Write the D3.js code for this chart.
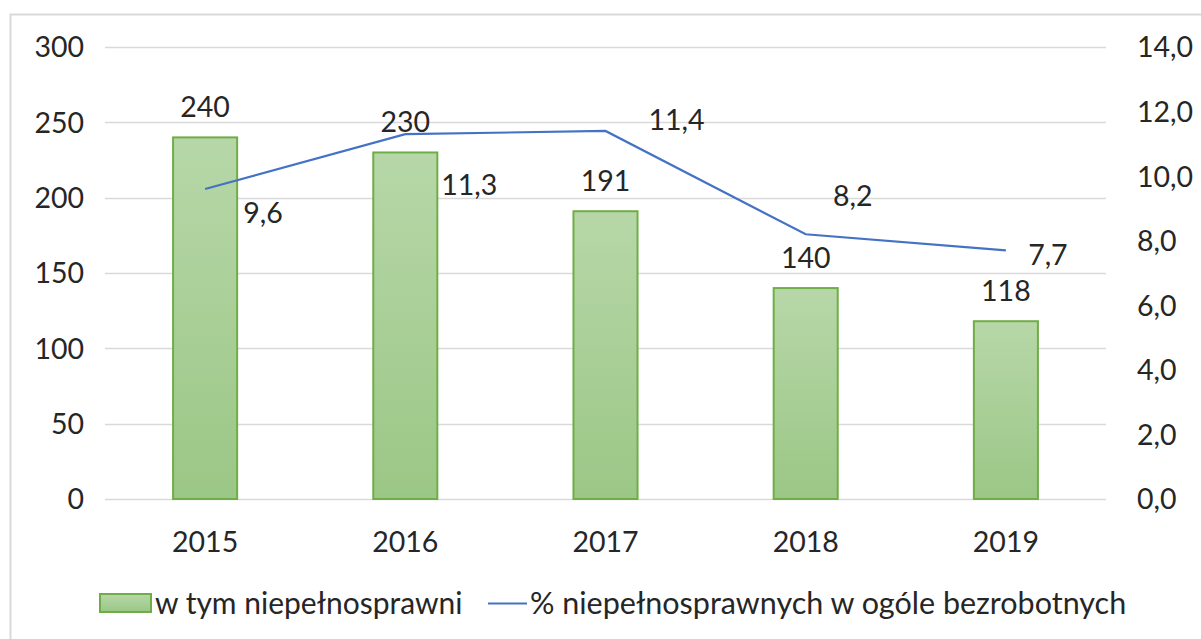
<!DOCTYPE html>
<html><head><meta charset="utf-8">
<script src="https://cdn.jsdelivr.net/npm/d3@7"></script>
<style>body{margin:0;background:#fff}svg{display:block}text{font-family:Lato,"Open Sans",sans-serif;fill:#262626}</style>
</head><body>
<svg id="c" width="1201" height="639"></svg>
<script>
const years = ["2015","2016","2017","2018","2019"];
const counts = [240,230,191,140,118];
const percents = [9.6,11.3,11.4,8.2,7.7];
const leftTicks = [0,50,100,150,200,250,300];
const rightTicks = [0,2,4,6,8,10,12,14];
const barName = "w tym niepełnosprawni";
const lineName = "% niepełnosprawnych w ogóle bezrobotnych";
// label offsets (dx, dy) for line value labels, relative to the point
const lineLabelOffsets = [[58,24],[64,51],[71,-11],[47,-38],[42,5]];

const svg = d3.select("#c");
const m = {l:105, r:1106, t:47, b:499};
const fs = 28.5;
const lfs = 30;

svg.append("rect").attr("x",10.5).attr("y",14.5).attr("width",1200).attr("height",640)
  .attr("fill","#fff").attr("stroke","#d9d9d9").attr("stroke-width",2);

const x = d3.scaleBand().domain(years).range([m.l,m.r]).paddingInner(0.68).paddingOuter(0.34);
const yL = d3.scaleLinear().domain([0,300]).range([m.b,m.t]);
const yR = d3.scaleLinear().domain([0,14]).range([m.b,m.t]);

const defs = svg.append("defs");
const g = defs.append("linearGradient").attr("id","bg").attr("x1",0).attr("y1",0).attr("x2",0).attr("y2",1);
g.append("stop").attr("offset","0%").attr("stop-color","#b7d7a8");
g.append("stop").attr("offset","100%").attr("stop-color","#9bc786");

// grid
svg.append("g").selectAll("line").data(leftTicks).join("line")
  .attr("x1",m.l).attr("x2",m.r).attr("y1",d=>Math.round(yL(d))+0.5).attr("y2",d=>Math.round(yL(d))+0.5)
  .attr("stroke","#d9d9d9").attr("stroke-width",1.5);

// left axis
const axL = svg.append("g").attr("transform",`translate(${m.l-21},0)`)
  .call(d3.axisLeft(yL).tickValues(leftTicks).tickSize(0).tickPadding(0));
axL.select(".domain").remove();
axL.selectAll("text").attr("font-size",fs).attr("fill","#262626").attr("dy","0.35em");

const axR = svg.append("g").attr("transform",`translate(${m.r+31},0)`)
  .call(d3.axisRight(yR).tickValues(rightTicks).tickSize(0).tickPadding(0).tickFormat(d=>d3.format(".1f")(d).replace(".",",")));
axR.select(".domain").remove();
axR.selectAll("text").attr("font-size",fs).attr("fill","#262626").attr("dy","0.35em");

const axB = svg.append("g").attr("transform",`translate(0,${m.b+43})`)
  .call(d3.axisBottom(x).tickSize(0).tickPadding(0));
axB.select(".domain").remove();
axB.selectAll("text").attr("font-size",fs).attr("fill","#262626").attr("dy","0.35em");

// bars
svg.append("g").selectAll("rect").data(counts).join("rect")
  .attr("x",(d,i)=>x(years[i])).attr("width",x.bandwidth())
  .attr("y",d=>yL(d)).attr("height",d=>yL(0)-yL(d))
  .attr("fill","url(#bg)").attr("stroke","#70ad47").attr("stroke-width",2);

svg.append("g").selectAll("text").data(counts).join("text")
  .attr("x",(d,i)=>x(years[i])+x.bandwidth()/2).attr("y",d=>yL(d)-30)
  .attr("dy","0.35em").attr("text-anchor","middle").attr("font-size",fs).text(d=>d);

// line
const cx = i=>x(years[i])+x.bandwidth()/2;
svg.append("path").datum(percents)
  .attr("d",d3.line().x((d,i)=>cx(i)).y(d=>yR(d)))
  .attr("fill","none").attr("stroke","#4472c4").attr("stroke-width",2.2);

svg.append("g").selectAll("text").data(percents).join("text")
  .attr("x",(d,i)=>cx(i)+lineLabelOffsets[i][0]).attr("y",(d,i)=>yR(d)+lineLabelOffsets[i][1])
  .attr("dy","0.35em").attr("text-anchor","middle").attr("font-size",fs)
  .text(d=>d3.format(".1f")(d).replace(".",","));

// legend
const lg = svg.append("g");
lg.append("rect").attr("x",100).attr("y",594).attr("width",51).attr("height",18)
  .attr("fill","url(#bg)").attr("stroke","#70ad47").attr("stroke-width",2);
lg.append("text").attr("x",155).attr("y",603).attr("dy","0.35em").attr("font-size",lfs).text(barName);
lg.append("line").attr("x1",488).attr("x2",527).attr("y1",603.5).attr("y2",603.5)
  .attr("stroke","#4472c4").attr("stroke-width",2.2);
lg.append("text").attr("x",530).attr("y",603).attr("dy","0.35em").attr("font-size",lfs+0.5).text(lineName);
</script>
</body></html>
